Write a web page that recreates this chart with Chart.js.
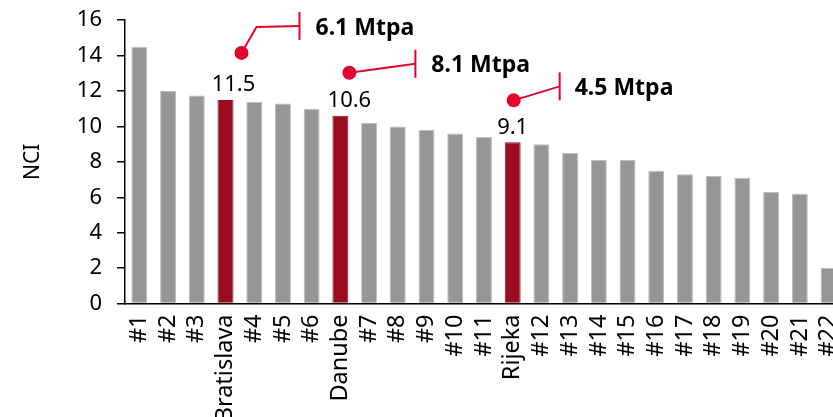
<!DOCTYPE html>
<html>
<head>
<meta charset="utf-8">
<script src="https://cdn.jsdelivr.net/npm/chart.js@4/dist/chart.umd.min.js"></script>
<style>
  body { margin: 0; overflow: hidden; background: #fff; }
  #wrap { width: 860px; height: 425px; margin-top: -8px; }
</style>
</head>
<body>
<div id="wrap"><canvas id="nciChart"></canvas></div>
<script>
// data
var labels = ["#1", "#2", "#3", "Bratislava", "#4", "#5", "#6", "Danube", "#7", "#8", "#9", "#10",
              "#11", "Rijeka", "#12", "#13", "#14", "#15", "#16", "#17", "#18", "#19", "#20", "#21", "#22"];
var nciValues = [14.5, 12.0, 11.75, 11.5, 11.4, 11.3, 11.0, 10.6, 10.2, 10.0, 9.8, 9.6,
                 9.4, 9.1, 9.0, 8.5, 8.1, 8.1, 7.5, 7.3, 7.2, 7.1, 6.3, 6.2, 2.0];
var highlighted = ["Bratislava", "Danube", "Rijeka"];
var capacityLabels = ["6.1 Mtpa", "8.1 Mtpa", "4.5 Mtpa"];
var yTicks = [0, 2, 4, 6, 8, 10, 12, 14, 16];

var GREY = '#969696';
var RED = '#9a0d1f';
var CALLOUT = '#e4032e';

var barColors = labels.map(function (l) { return highlighted.indexOf(l) >= 0 ? RED : GREY; });
var barBorders = labels.map(function (l) { return highlighted.indexOf(l) >= 0 ? RED : '#bdbdbd'; });

// callout shapes, offsets in px from bar centre / bar top
var callouts = [
  { dx: 8,  dot: [16, -47], bend: [31, -73], end: [74, -74], textX: 90, textY: -71 },
  { dx: 9,  dot: [9, -43],  bend: null,      end: [75, -52], textX: 91, textY: -50 },
  { dx: 0,  dot: [1, -42],  bend: null,      end: [47, -56], textX: 62, textY: -54 }
];

var calloutPlugin = {
  id: 'callouts',
  afterDatasetsDraw: function (chart) {
    var c = chart.ctx;
    var bars = chart.getDatasetMeta(0).data;
    highlighted.forEach(function (name, k) {
      var i = labels.indexOf(name);
      var b = bars[i];
      var o = callouts[k];
      c.save();
      // value label
      c.fillStyle = '#000';
      c.font = '22px "Noto Sans"';
      c.textAlign = 'center';
      c.textBaseline = 'bottom';
      c.fillText(nciValues[i].toFixed(1), b.x + o.dx, b.y - 4);
      // line
      c.strokeStyle = CALLOUT;
      c.lineWidth = 2;
      c.beginPath();
      c.moveTo(b.x + o.dot[0], b.y + o.dot[1]);
      if (o.bend) c.lineTo(b.x + o.bend[0], b.y + o.bend[1]);
      c.lineTo(b.x + o.end[0], b.y + o.end[1]);
      c.stroke();
      // end tick
      c.beginPath();
      c.moveTo(b.x + o.end[0], b.y + o.end[1] - 14);
      c.lineTo(b.x + o.end[0], b.y + o.end[1] + 14);
      c.stroke();
      // dot
      c.fillStyle = CALLOUT;
      c.beginPath();
      c.arc(b.x + o.dot[0], b.y + o.dot[1], 7, 0, Math.PI * 2);
      c.fill();
      // text
      c.fillStyle = '#000';
      c.font = 'bold 23px "Noto Sans"';
      c.textAlign = 'left';
      c.textBaseline = 'middle';
      c.fillText(capacityLabels[k], b.x + o.textX, b.y + o.textY);
      c.restore();
    });
  }
};

var ctx = document.getElementById('nciChart');
var myChart = new Chart(ctx, {
  type: 'bar',
  data: {
    labels: labels,
    datasets: [{
      label: 'NCI',
      data: nciValues,
      backgroundColor: barColors,
      borderColor: barBorders,
      borderWidth: 1,
      barPercentage: 0.555,
      categoryPercentage: 1.0
    }]
  },
  options: {
    responsive: true,
    maintainAspectRatio: false,
    animation: false,
    layout: { padding: { top: 6, right: 13, left: 0, bottom: 0 } },
    plugins: {
      legend: { display: false },
      tooltip: { enabled: false }
    },
    scales: {
      x: {
        grid: { display: false },
        border: { display: true, color: '#000', width: 1.5 },
        ticks: {
          color: '#000',
          font: { family: 'Noto Sans', size: 23.5 },
          minRotation: 90,
          maxRotation: 90,
          autoSkip: false,
          padding: 3
        },
        afterFit: function (s) { s.height = 113.5; }
      },
      y: {
        min: 0,
        max: 16,
        afterBuildTicks: function (s) { s.ticks = yTicks.map(function (v) { return { value: v }; }); },
        grid: { drawOnChartArea: false, drawTicks: true, tickLength: 8, color: '#000', lineWidth: 1.5 },
        border: { display: true, color: '#000', width: 1.5 },
        ticks: {
          color: '#000',
          font: { family: 'Noto Sans', size: 22 },
          padding: 15
        },
        title: {
          display: true,
          text: 'NCI',
          color: '#000',
          font: { family: 'Noto Sans', size: 21 },
          padding: { top: 20, bottom: 0 }
        },
        afterFit: function (s) { s.width = 125; }
      }
    }
  },
  plugins: [calloutPlugin]
});
</script>
</body>
</html>
